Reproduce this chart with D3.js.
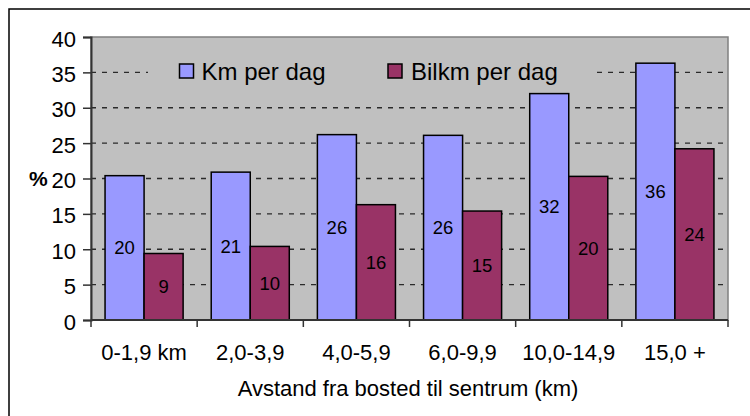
<!DOCTYPE html>
<html>
<head>
<meta charset="utf-8">
<script src="https://cdn.jsdelivr.net/npm/d3@7"></script>
<style>
  html, body { margin: 0; padding: 0; background: #fff; }
  svg { display: block; }
  text { font-family: "Liberation Sans", Arial, sans-serif; fill: #000; }
</style>
</head>
<body>
<svg id="chart" width="750" height="416"></svg>
<script>
// Distance bands from home to the city centre
const categories = ["0-1,9 km", "2,0-3,9", "4,0-5,9", "6,0-9,9", "10,0-14,9", "15,0 +"];
// Share (%) per distance band
const kmPerDag    = [20.4, 20.9, 26.2, 26.1, 32.0, 36.3];
const bilkmPerDag = [9.4, 10.4, 16.3, 15.4, 20.3, 24.2];
const seriesNames = ["Km per dag", "Bilkm per dag"];
const yTicks = [0, 5, 10, 15, 20, 25, 30, 35, 40];
const xTitle = "Avstand fra bosted til sentrum (km)";
const yTitle = "%";

const colors = ["#9999FF", "#993366"];
const svg = d3.select("#chart");

// Outer chart frame
svg.append("rect")
  .attr("x", 9).attr("y", 9).attr("width", 760).attr("height", 430)
  .attr("fill", "#fff").attr("stroke", "#000").attr("stroke-width", 1.5);

const plot = { left: 91, right: 728, top: 37, bottom: 320 };

// Category bands, each split into two touching bars with a gap on either side
const xCat = d3.scaleBand().domain(categories).range([plot.left, plot.right]).padding(0);
const bandW = xCat.bandwidth();
const xSub = d3.scaleBand().domain([0, 1]).range([0, bandW]).paddingInner(0).paddingOuter(0.36);
const barW = xSub.bandwidth();

const y = d3.scaleLinear().domain([0, 40]).range([plot.bottom, plot.top]);

// Plot area
svg.append("rect")
  .attr("x", plot.left).attr("y", plot.top)
  .attr("width", plot.right - plot.left).attr("height", plot.bottom - plot.top)
  .attr("fill", "#C0C0C0").attr("stroke", "#808080").attr("stroke-width", 1.5);

// Dashed gridlines
svg.append("g").selectAll("line")
  .data(yTicks.filter(d => d > 0 && d < 40))
  .join("line")
  .attr("x1", plot.left).attr("x2", plot.right)
  .attr("y1", d => y(d)).attr("y2", d => y(d))
  .attr("stroke", "#2a2a2a")
  .attr("stroke-width", 1.4)
  .attr("stroke-dasharray", "5,6");

// Bars
const series = [kmPerDag, bilkmPerDag];
const barX = (c, si) => xCat(c) + xSub(si);
series.forEach((vals, si) => {
  svg.append("g").selectAll("rect")
    .data(vals.map((v, i) => ({ v, c: categories[i] })))
    .join("rect")
    .attr("x", d => barX(d.c, si))
    .attr("y", d => y(d.v))
    .attr("width", barW)
    .attr("height", d => y(0) - y(d.v))
    .attr("fill", colors[si])
    .attr("stroke", "#000").attr("stroke-width", 1.5);
});

// Value labels centred in each bar
const fmt = d3.format(".0f");
series.forEach((vals, si) => {
  svg.append("g").selectAll("text")
    .data(vals.map((v, i) => ({ v, c: categories[i] })))
    .join("text")
    .attr("x", d => barX(d.c, si) + barW / 2)
    .attr("y", d => (y(d.v) + y(0)) / 2 + 6.5)
    .attr("text-anchor", "middle")
    .attr("font-size", "18.5px")
    .text(d => fmt(d.v));
});

// Y axis
const yAxis = d3.axisLeft(y).tickValues(yTicks).tickSize(8).tickPadding(7);
const gy = svg.append("g").attr("transform", `translate(${plot.left},0)`).call(yAxis);
gy.select(".domain").attr("stroke", "#333").attr("stroke-width", 2);
gy.selectAll(".tick line").attr("stroke", "#333").attr("stroke-width", 1.5);
gy.selectAll(".tick text")
  .attr("font-size", "22px").attr("dy", "0.41em")
  .attr("font-family", "Liberation Sans, Arial, sans-serif").attr("fill", "#000");

// X axis: line along zero with ticks at category boundaries
const gx = svg.append("g");
gx.append("line")
  .attr("x1", plot.left).attr("x2", plot.right)
  .attr("y1", y(0)).attr("y2", y(0))
  .attr("stroke", "#333").attr("stroke-width", 2);
const bounds = categories.map(c => xCat(c)).concat([plot.right]);
gx.selectAll(".bt").data(bounds).join("line")
  .attr("x1", d => d).attr("x2", d => d)
  .attr("y1", y(0)).attr("y2", y(0) + 7)
  .attr("stroke", "#333").attr("stroke-width", 1.5);
gx.selectAll("text").data(categories).join("text")
  .attr("x", c => xCat(c) + bandW / 2)
  .attr("y", 359.5)
  .attr("text-anchor", "middle")
  .attr("font-size", "22px")
  .text(c => c);

// Axis titles
svg.append("text")
  .attr("x", 408).attr("y", 396)
  .attr("text-anchor", "middle")
  .attr("font-size", "22px")
  .text(xTitle);
svg.append("text")
  .attr("x", 29).attr("y", 186)
  .attr("font-size", "21px").attr("font-weight", "bold")
  .text(yTitle);

// Legend
const legend = svg.append("g");
legend.append("rect")
  .attr("x", 148).attr("y", 56).attr("width", 444).attr("height", 34)
  .attr("fill", "#C0C0C0");
const legendItems = [
  { name: seriesNames[0], color: colors[0], sx: 179.5, tx: 201.5 },
  { name: seriesNames[1], color: colors[1], sx: 388, tx: 411 }
];
legendItems.forEach(it => {
  legend.append("rect")
    .attr("x", it.sx).attr("y", 64).attr("width", 14).attr("height", 14)
    .attr("fill", it.color).attr("stroke", "#000").attr("stroke-width", 1.5);
  legend.append("text")
    .attr("x", it.tx).attr("y", 80)
    .attr("font-size", "24px")
    .text(it.name);
});
</script>
</body>
</html>
